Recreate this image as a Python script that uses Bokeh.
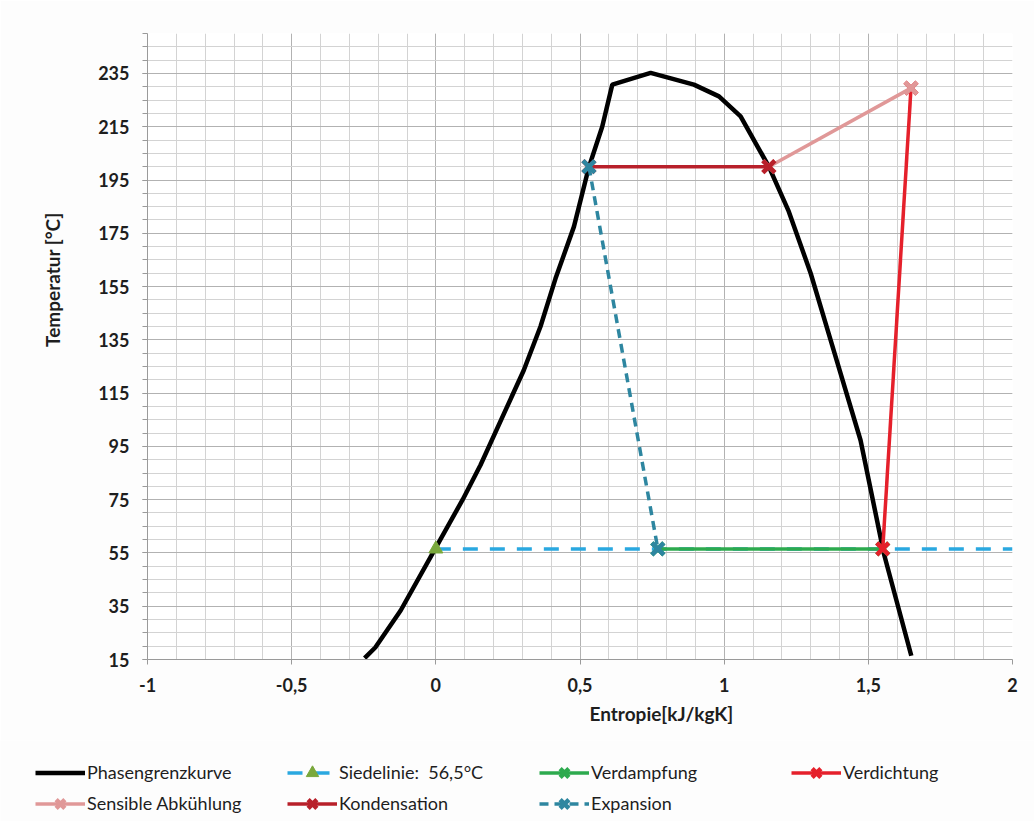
from bokeh.plotting import figure
from bokeh.models import FixedTicker, Range1d, Legend, LegendItem, Title
from bokeh.embed import file_html
from bokeh.resources import INLINE

# ---------------- data ----------------
phase_s = [-0.247, -0.21, -0.122, 0.0, 0.093, 0.155, 0.305, 0.363, 0.415, 0.479,
           0.53, 0.577, 0.612, 0.745, 0.895, 0.982, 1.057, 1.155, 1.224, 1.3,
           1.369, 1.473, 1.554, 1.649]
phase_T = [15.5, 19.5, 33.4, 57.0, 75.0, 88.0, 123.6, 140.0, 158.0, 177.5,
           199.5, 215.0, 230.8, 235.2, 230.8, 226.4, 218.9, 200.0, 183.2, 160.0,
           135.0, 97.3, 54.7, 16.4]

siede_s = [0.0, 2.0]
siede_T = [56.5, 56.5]
verdampf_s = [0.77, 1.55]
verdampf_T = [56.5, 56.5]
verdicht_s = [1.55, 1.648]
verdicht_T = [56.5, 229.5]
sensibel_s = [1.648, 1.155]
sensibel_T = [229.5, 200.0]
kond_s = [1.155, 0.531]
kond_T = [200.0, 200.0]
exp_s = [0.531, 0.77]
exp_T = [200.0, 56.5]

series_names = ["Phasengrenzkurve", "Siedelinie:  56,5°C", "Verdampfung", "Verdichtung",
                "Sensible Abkühlung", "Kondensation", "Expansion"]

x_ticks = [-1, -0.5, 0, 0.5, 1, 1.5, 2]
x_tick_labels = ["-1", "-0,5", "0", "0,5", "1", "1,5", "2"]
y_ticks = [15, 35, 55, 75, 95, 115, 135, 155, 175, 195, 215, 235]

x_title = "Entropie[kJ/kgK]"
y_title = "Temperatur [°C]"

# ---------------- styles ----------------
FONT = "Lato"
TXT = "#1e1e1e"
BG = "#fdfdfd"
styles = [
    dict(line_color="black", line_width=4.5),
    dict(line_color="#2aa8e0", line_width=3.5, line_dash="15 12", marker="triangle", mcolor="#7aa83c"),
    dict(line_color="#2daa4e", line_width=3.5, marker="x", mcolor="#2daa4e"),
    dict(line_color="#e5202b", line_width=3.5, marker="x", mcolor="#e5202b"),
    dict(line_color="#e09898", line_width=3.5, marker="x", mcolor="#e09898"),
    dict(line_color="#b8202a", line_width=3.5, marker="x", mcolor="#b8202a"),
    dict(line_color="#2e86a0", line_width=3.5, line_dash="9 6", marker="x", mcolor="#2e86a0"),
]
series_data = [(phase_s, phase_T), (siede_s, siede_T), (verdampf_s, verdampf_T),
               (verdicht_s, verdicht_T), (sensibel_s, sensibel_T), (kond_s, kond_T),
               (exp_s, exp_T)]


def draw(fig, st, xs, ys, mxs=None, mys=None):
    kw = {k: v for k, v in st.items() if k in ("line_color", "line_width", "line_dash")}
    rs = [fig.line(xs, ys, **kw)]
    if "marker" in st:
        mx = xs if mxs is None else mxs
        my = ys if mys is None else mys
        if st["marker"] == "triangle":
            rs.append(fig.scatter(mx, my, marker="triangle", size=14,
                                  fill_color=st["mcolor"], line_color=st["mcolor"]))
        else:
            rs.append(fig.scatter(mx, my, marker="x", size=17, line_width=4.5,
                                  line_color=st["mcolor"]))
    return rs


# ---------------- main figure ----------------
p = figure(width=1034, height=740, x_range=Range1d(-1, 2), y_range=Range1d(15, 250),
           output_backend="svg", toolbar_location=None,
           min_border_left=147, min_border_right=22, min_border_top=33, min_border_bottom=81)
p.background_fill_color = "white"
p.border_fill_color = BG
p.outline_line_color = None

x_minor = [round(-1 + 0.1 * i, 1) for i in range(31)]
y_minor = [15 + 5 * i for i in range(48)]
p.xaxis.ticker = FixedTicker(ticks=x_ticks, minor_ticks=x_minor)
p.yaxis.ticker = FixedTicker(ticks=y_ticks, minor_ticks=y_minor)
p.xaxis.major_label_overrides = {t: l for t, l in zip(x_ticks, x_tick_labels)}

for ax in (p.xaxis, p.yaxis):
    ax.axis_line_color = "#9a9a9a"
    ax.major_tick_line_color = "#9a9a9a"
    ax.minor_tick_line_color = "#9a9a9a"
    ax.major_tick_in = 0
    ax.minor_tick_in = 0
    ax.major_tick_out = 5
    ax.major_label_text_font = FONT
    ax.major_label_text_font_style = "bold"
    ax.major_label_text_font_size = "18px"
    ax.major_label_text_color = TXT
p.xaxis.minor_tick_out = 0
p.yaxis.minor_tick_out = 5
p.xaxis.major_label_standoff = 13
p.yaxis.major_label_standoff = 13

p.grid.grid_line_color = "#b2b2b2"
p.grid.minor_grid_line_color = "#d3d3d3"
p.grid.grid_line_width = 1
p.grid.minor_grid_line_width = 1

draw(p, styles[0], phase_s, phase_T)
draw(p, styles[1], siede_s, siede_T, siede_s[:1], siede_T[:1])
for st, (xs, ys) in zip(styles[2:], series_data[2:]):
    draw(p, st, xs, ys)

p.add_layout(Title(text=y_title, align="right", offset=179, standoff=64,
                   text_font=FONT, text_font_style="bold", text_font_size="19px",
                   text_color=TXT), "left")
p.add_layout(Title(text=x_title, align="left", offset=442, standoff=10,
                   text_font=FONT, text_font_style="bold", text_font_size="19px",
                   text_color=TXT), "below")

# ---------------- legend strip (separate root, same series styles) ----------------
lg = figure(width=1034, height=81, x_range=Range1d(100, 101), y_range=Range1d(1000, 1001),
            output_backend="svg", toolbar_location=None,
            x_axis_location=None, y_axis_location=None, min_border=0)
lg.grid.visible = False
lg.outline_line_color = None
lg.background_fill_color = BG
lg.border_fill_color = BG

groups = [draw(lg, st, xs, ys) for st, (xs, ys) in zip(styles, series_data)]
legend = Legend(items=[LegendItem(label=n, renderers=g) for n, g in zip(series_names, groups)],
                location=(35, 2.5), orientation="horizontal", ncols=4,
                glyph_width=50, glyph_height=31, label_width=200, label_height=31,
                label_standoff=2, spacing=0, padding=0, margin=0,
                border_line_alpha=0, background_fill_alpha=0,
                label_text_font=FONT, label_text_font_size="18px", label_text_color=TXT)
lg.add_layout(legend)

open("out.html", "w").write(file_html([p, lg], INLINE))
